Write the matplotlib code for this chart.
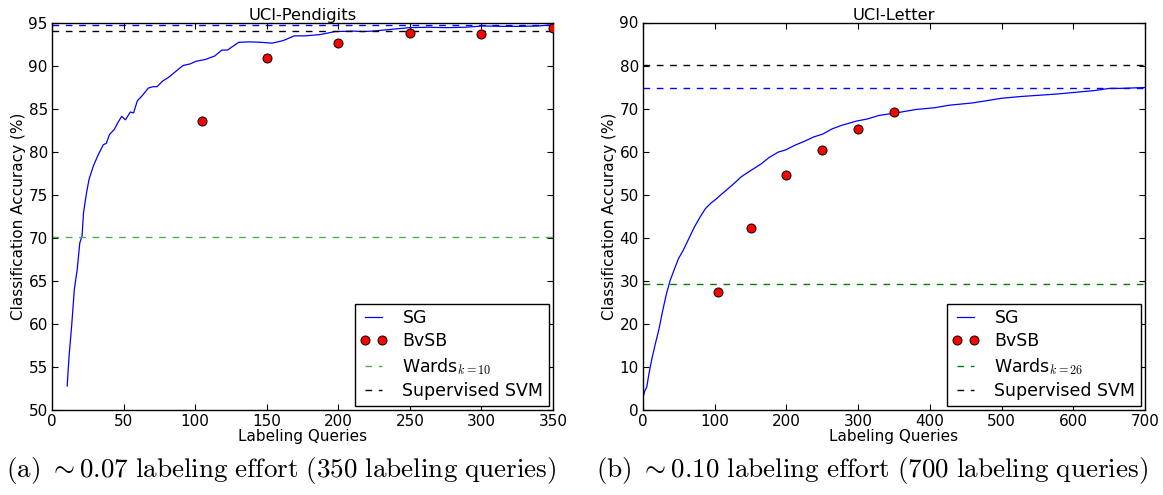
import matplotlib
matplotlib.use("Agg")
import matplotlib.pyplot as plt
import numpy as np

plt.rcParams['mathtext.fontset'] = 'cm'
plt.rcParams['font.family'] = 'DejaVu Sans'

# ---------- Data: UCI-Pendigits ----------
pen_sg_x = [10.6, 11.9, 13.7, 15.6, 17.6, 19.4, 21, 22, 24.1, 25.9, 28.8, 31.9, 35.8, 37.9,
            40.2, 43.6, 46.1, 48.7, 51.3, 54.7, 57, 59.6, 63, 67.4, 70.8, 73.4, 77.3, 81.2,
            86.3, 91.5, 96.7, 100.6, 107, 113.6, 118.7, 122.6, 130.4, 138.2, 146, 153.7,
            161.5, 169.3, 177, 187.5, 197.8, 210.8, 217, 223.7, 236.7, 249.7, 262.6, 275.5,
            288.5, 301.5, 314.5, 327.5, 340.5, 350]
pen_sg_y = [52.8, 56.2, 59.7, 64.0, 66.3, 69.4, 70.2, 72.9, 75.2, 76.8, 78.3, 79.5, 80.8, 80.96,
            82.0, 82.6, 83.4, 84.1, 83.7, 84.6, 84.5, 85.9, 86.5, 87.4, 87.55, 87.55, 88.2, 88.6,
            89.3, 90.0, 90.2, 90.5, 90.7, 91.1, 91.8, 91.8, 92.7, 92.75, 92.7, 92.6,
            92.9, 93.45, 93.45, 93.6, 93.95, 94.0, 93.95, 94.0, 94.2, 94.4, 94.45, 94.4,
            94.45, 94.6, 94.55, 94.55, 94.6, 94.75]
pen_bvsb_x = [105, 150, 200, 250, 300, 350]
pen_bvsb_y = [83.6, 90.9, 92.6, 93.76, 93.65, 94.4]
pen_wards = 70.1
pen_svm = 94.07
pen_sg_final = 94.7

# ---------- Data: UCI-Letter ----------
let_sg_x = [0, 2.6, 5.2, 8.3, 11.9, 17.1, 22.3, 27.5, 32.7, 37.9, 43.1, 49.3, 56.1, 63.9, 71.7,
            79.5, 87.2, 95, 101.3, 108, 115.8, 126.2, 136.6, 144.4, 154.8, 165.1, 175.5, 188.5,
            198.9, 211.9, 224.9, 237.8, 250.8, 263.8, 276.8, 297.5, 313.1, 328.7, 344.3, 359.9,
            380.6, 406.6, 427.4, 458.5, 474.1, 500, 526, 552, 578, 604, 630, 650.7, 666, 700]
let_sg_y = [2.9, 4.5, 5.3, 8.4, 11.5, 15.3, 18.8, 23.1, 27.0, 30.1, 32.4, 35.1, 37.1, 39.8, 42.5,
            44.8, 46.8, 48.1, 48.9, 49.9, 51.0, 52.5, 54.1, 55.0, 56.1, 57.2, 58.6, 59.9,
            60.4, 61.5, 62.4, 63.4, 64.1, 65.3, 66.1, 67.1, 67.6, 68.4, 68.8, 69.2,
            69.8, 70.2, 70.8, 71.3, 71.7, 72.4, 72.8, 73.1, 73.4, 73.8, 74.2, 74.7, 74.7, 74.9]
let_bvsb_x = [105, 150, 200, 250, 300, 350]
let_bvsb_y = [27.3, 42.3, 54.6, 60.5, 65.3, 69.1]
let_wards = 29.3
let_svm = 80.1
let_sg_final = 74.85

pen_xticks = [0, 50, 100, 150, 200, 250, 300, 350]
pen_yticks = [50, 55, 60, 65, 70, 75, 80, 85, 90, 95]
let_xticks = [0, 100, 200, 300, 400, 500, 600, 700]
let_yticks = [0, 10, 20, 30, 40, 50, 60, 70, 80, 90]

W, H = 1163, 495
fig = plt.figure(figsize=(W / 100, H / 100), dpi=100)

dash = (0, (4.8, 4.8))
FS = 11
LFS = 12.5


def panel(ax, title, sgx, sgy, bx, by, wards, svm, sgfin, wards_label, wards_color,
          xlim, ylim, xticks, yticks):
    ax.plot(sgx, sgy, color='#0000ff', lw=0.9, label='SG')
    ax.plot(bx, by, 'o', color='#ff0000', mec='black', mew=0.7, ms=6.5, label='BvSB',
            zorder=5)
    ax.axhline(sgfin, color='#0000ff', lw=1.0, ls=dash)
    ax.axhline(wards, color=wards_color, lw=1.0, ls=dash, label=wards_label)
    ax.axhline(svm, color='black', lw=1.0, ls=dash, label='Supervised SVM')
    ax.set_xlim(*xlim)
    ax.set_ylim(*ylim)
    ax.set_xticks(xticks)
    ax.set_yticks(yticks)
    ax.tick_params(direction='in', top=True, right=True, length=4.5, width=0.8,
                   labelsize=FS, pad=3)
    ax.set_title(title, fontsize=11.8, pad=2)
    ax.set_xlabel('Labeling Queries', fontsize=FS, labelpad=0)
    ax.set_ylabel('Classification Accuracy (%)', fontsize=FS, labelpad=2)
    leg = ax.legend(loc='lower right', numpoints=2, fontsize=LFS, fancybox=False,
                    edgecolor='black', framealpha=1, borderaxespad=0.25,
                    handlelength=1.6, handletextpad=0.85, labelspacing=0.32,
                    borderpad=0.3)
    leg.get_frame().set_linewidth(1.0)
    for s in ax.spines.values():
        s.set_linewidth(1.0)


ax1 = fig.add_axes([52 / W, 1 - 410 / H, (553 - 52) / W, (410 - 22.5) / H])
panel(ax1, 'UCI-Pendigits', pen_sg_x, pen_sg_y, pen_bvsb_x, pen_bvsb_y, pen_wards,
      pen_svm, pen_sg_final, r'Wards$_{k=10}$', '#4caf4c', (0, 350), (50, 95),
      pen_xticks, pen_yticks)

ax2 = fig.add_axes([643 / W, 1 - 410 / H, (1145 - 643) / W, (410 - 22.5) / H])
panel(ax2, 'UCI-Letter', let_sg_x, let_sg_y, let_bvsb_x, let_bvsb_y, let_wards,
      let_svm, let_sg_final, r'Wards$_{k=26}$', '#008000', (0, 700), (0, 90),
      let_xticks, let_yticks)

fig.text(281 / W, 1 - 470 / H,
         r'$\mathrm{(a)}\ \sim 0.07\ \mathrm{labeling\ effort\ (350\ labeling\ queries)}$',
         ha='center', va='center', fontsize=19.5)
fig.text(872 / W, 1 - 470 / H,
         r'$\mathrm{(b)}\ \sim 0.10\ \mathrm{labeling\ effort\ (700\ labeling\ queries)}$',
         ha='center', va='center', fontsize=19.5)

fig.savefig('out.png', dpi=100)
